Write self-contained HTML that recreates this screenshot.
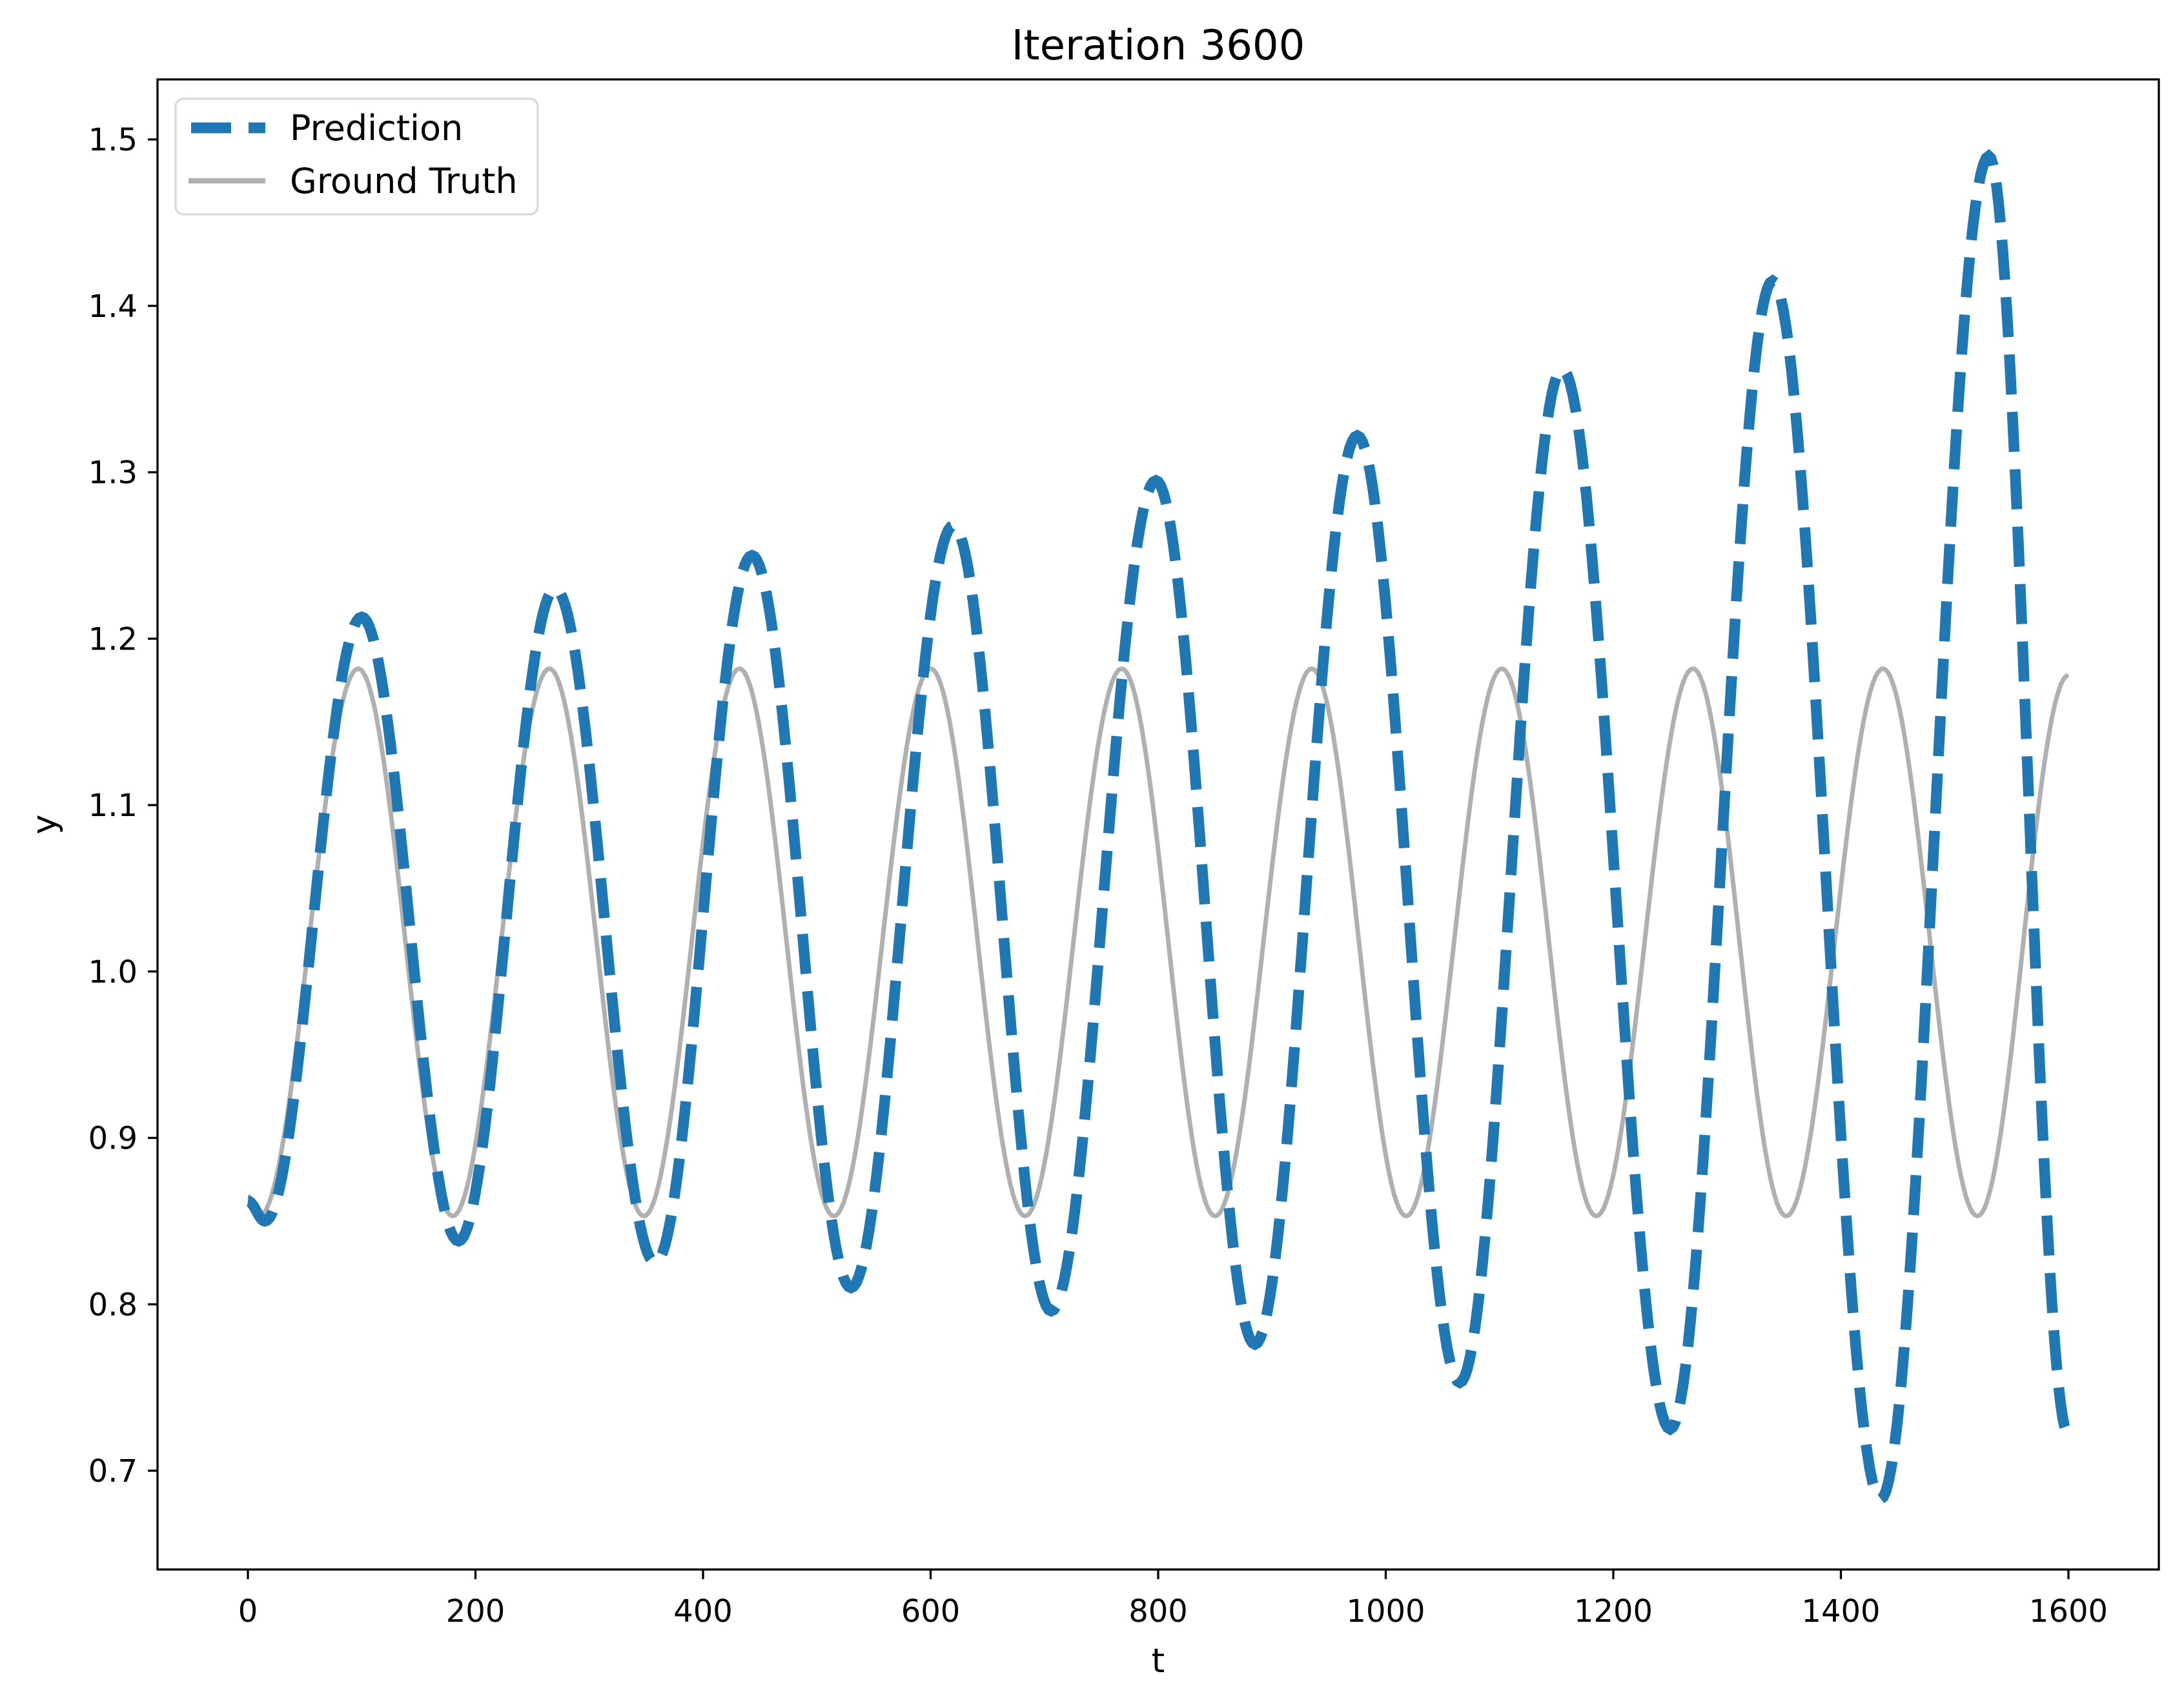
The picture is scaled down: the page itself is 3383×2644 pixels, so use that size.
<!DOCTYPE html>
<html><head><meta charset="utf-8"><style>
html,body{margin:0;padding:0;background:#fff;}
svg{display:block;}
text{font-family:"DejaVu Sans","Liberation Sans",sans-serif;fill:#000;}
</style></head><body>
<svg id="chart" width="3383" height="2644" viewBox="0 0 3383 2644" xmlns="http://www.w3.org/2000/svg">
<rect width="3383" height="2644" fill="#fff"/>
<text x="1794" y="92" font-size="64" text-anchor="middle">Iteration 3600</text>
<g id="plot"></g>
<g id="xticks"></g>
<g id="yticks"></g>
<rect x="244" y="123" width="3100" height="2308" fill="none" stroke="#000" stroke-width="3.3"/>
<text x="1794" y="2590" font-size="52" text-anchor="middle">t</text>
<text x="86" y="1277" font-size="52" text-anchor="middle" transform="rotate(-90 86 1277)">y</text>
<g>
<rect x="272" y="153" width="561" height="179" rx="12" fill="#fff" fill-opacity="0.8" stroke="#d9d9d9" stroke-width="3.3"/>
<g>
<line x1="296" y1="198" x2="411" y2="198" stroke="#1f77b4" stroke-width="16.7" stroke-dasharray="62 27"/>
<text x="449" y="217" font-size="54">Prediction</text>
</g>
<g>
<line x1="292" y1="280" x2="411" y2="280" stroke="#b0b0b0" stroke-width="8.3"/>
<text x="449" y="299" font-size="54">Ground Truth</text>
</g>
</g>
</svg>
<script>
// Extrema keypoints (t, y)
const gtT = [0, 10, 97, 180, 265, 348, 432, 515, 600, 683, 768, 850, 935, 1018, 1102, 1185, 1270, 1352, 1437, 1520, 1600];
const gtY = [0.865, 0.853, 1.182, 0.853, 1.182, 0.853, 1.182, 0.853, 1.182, 0.853, 1.182, 0.853, 1.182, 0.853, 1.182, 0.853, 1.182, 0.853, 1.182, 0.853, 1.178];
const predT = [0, 15, 100, 185, 270, 358, 443, 530, 620, 706, 798, 885, 975, 1065, 1155, 1250, 1340, 1435, 1530, 1600];
const predY = [0.862, 0.850, 1.213, 0.838, 1.230, 0.825, 1.250, 0.810, 1.268, 0.796, 1.295, 0.776, 1.322, 0.753, 1.362, 0.725, 1.415, 0.683, 1.490, 0.722];
const xTickVals = [0, 200, 400, 600, 800, 1000, 1200, 1400, 1600];
const yTickVals = [0.7, 0.8, 0.9, 1.0, 1.1, 1.2, 1.3, 1.4, 1.5];
const yTickLabels = ["0.7","0.8","0.9","1.0","1.1","1.2","1.3","1.4","1.5"];

const NS = "http://www.w3.org/2000/svg";
function xs(t){ return 384 + (t - 0) * (3204 - 384) / 1600; }
function ys(v){ return 2278 + (v - 0.7) * (216 - 2278) / 0.8; }

function pathFrom(T, Y){
  let d = "M" + xs(T[0]).toFixed(1) + "," + ys(Y[0]).toFixed(1);
  for (let i = 0; i < T.length - 1; i++){
    const n = 40;
    for (let k = 1; k <= n; k++){
      const f = k / n;
      const w = (1 - Math.cos(Math.PI * f)) / 2;
      const t = T[i] + (T[i+1] - T[i]) * f;
      const v = Y[i] + (Y[i+1] - Y[i]) * w;
      d += "L" + xs(t).toFixed(1) + "," + ys(v).toFixed(1);
    }
  }
  return d;
}

const plot = document.getElementById("plot");
const gt = document.createElementNS(NS, "path");
gt.setAttribute("d", pathFrom(gtT, gtY));
gt.setAttribute("fill", "none");
gt.setAttribute("stroke", "#b0b0b0");
gt.setAttribute("stroke-width", "7");
gt.setAttribute("stroke-linejoin", "round");


plot.appendChild(gt);

const pr = document.createElementNS(NS, "path");
pr.setAttribute("d", pathFrom(predT, predY));
pr.setAttribute("fill", "none");
pr.setAttribute("stroke", "#1f77b4");
pr.setAttribute("stroke-width", "16.7");
pr.setAttribute("stroke-dasharray", "62 27");


plot.appendChild(pr);

const xg = document.getElementById("xticks");
xTickVals.forEach(function(v){
  const x = xs(v);
  const l = document.createElementNS(NS, "line");
  l.setAttribute("x1", x); l.setAttribute("x2", x);
  l.setAttribute("y1", 2431); l.setAttribute("y2", 2446);
  l.setAttribute("stroke", "#000"); l.setAttribute("stroke-width", "3.3");
  
  
  xg.appendChild(l);
  const tx = document.createElementNS(NS, "text");
  tx.setAttribute("x", x); tx.setAttribute("y", 2512);
  tx.setAttribute("font-size", "48"); tx.setAttribute("text-anchor", "middle");
  tx.textContent = String(v);
  
  
  xg.appendChild(tx);
});

const yg = document.getElementById("yticks");
yTickVals.forEach(function(v, i){
  const y = ys(v);
  const l = document.createElementNS(NS, "line");
  l.setAttribute("x1", 229); l.setAttribute("x2", 244);
  l.setAttribute("y1", y); l.setAttribute("y2", y);
  l.setAttribute("stroke", "#000"); l.setAttribute("stroke-width", "3.3");
  
  
  yg.appendChild(l);
  const tx = document.createElementNS(NS, "text");
  tx.setAttribute("x", 213); tx.setAttribute("y", y + 17);
  tx.setAttribute("font-size", "48"); tx.setAttribute("text-anchor", "end");
  tx.textContent = yTickLabels[i];
  
  
  yg.appendChild(tx);
});
</script>
</body></html>
